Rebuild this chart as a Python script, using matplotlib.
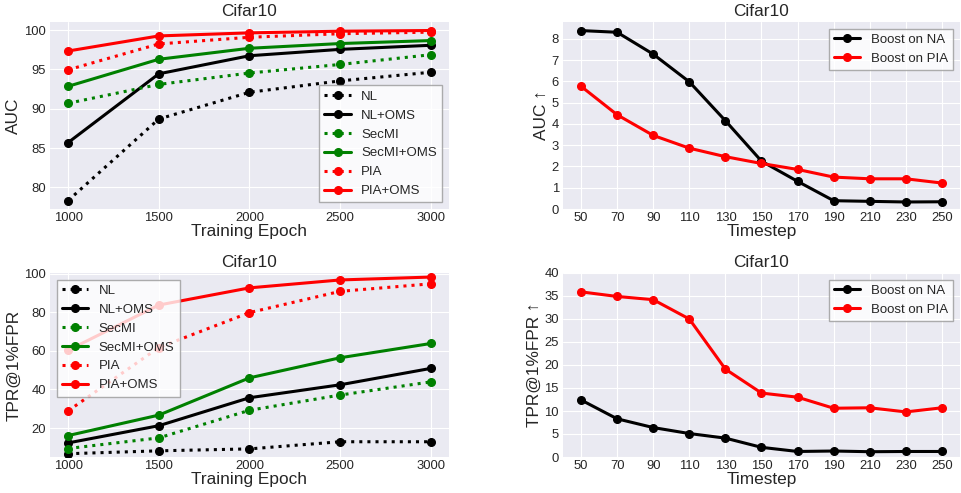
import matplotlib
matplotlib.use("Agg")
import matplotlib.pyplot as plt

plt.style.use("seaborn-v0_8-darkgrid")
plt.rcParams['font.family'] = ['Liberation Sans', 'DejaVu Sans']

# ---- data ----
epochs = [1000, 1500, 2000, 2500, 3000]
auc_nl = [78.33, 88.7, 92.1, 93.55, 94.65]
auc_nl_oms = [85.7, 94.45, 96.75, 97.56, 98.08]
auc_secmi = [90.7, 93.1, 94.55, 95.64, 96.88]
auc_secmi_oms = [92.86, 96.3, 97.7, 98.3, 98.68]
auc_pia = [94.96, 98.25, 99.1, 99.55, 99.75]
auc_pia_oms = [97.35, 99.27, 99.66, 99.87, 99.96]

tpr_nl = [6.7, 8.2, 9.2, 12.9, 12.9]
tpr_nl_oms = [12.3, 21.2, 35.7, 42.4, 50.9]
tpr_secmi = [9.4, 14.9, 29.2, 37.1, 43.9]
tpr_secmi_oms = [16.1, 26.7, 46.0, 56.4, 63.8]
tpr_pia = [28.9, 61.7, 79.8, 90.8, 94.7]
tpr_pia_oms = [60.3, 83.7, 92.6, 96.7, 98.2]

timesteps = [50, 70, 90, 110, 130, 150, 170, 190, 210, 230, 250]
auc_boost_na = [8.39, 8.31, 7.28, 5.98, 4.15, 2.25, 1.30, 0.39, 0.36, 0.33, 0.34]
auc_boost_pia = [5.77, 4.43, 3.46, 2.86, 2.46, 2.14, 1.86, 1.50, 1.42, 1.42, 1.22]
tpr_boost_na = [12.4, 8.3, 6.4, 5.1, 4.1, 2.1, 1.2, 1.3, 1.15, 1.2, 1.2]
tpr_boost_pia = [35.9, 34.9, 34.2, 30.0, 19.1, 13.9, 13.0, 10.6, 10.7, 9.8, 10.7]

series_names = ["NL", "NL+OMS", "SecMI", "SecMI+OMS", "PIA", "PIA+OMS"]
colors = ["black", "black", "green", "green", "red", "red"]
styles = [":", "-", ":", "-", ":", "-"]

W, H = 962, 493
fig = plt.figure(figsize=(W / 100, H / 100), dpi=100)

def box(l, t, r, b):
    return [l / W, 1 - b / H, (r - l) / W, (b - t) / H]

ax_tl = fig.add_axes(box(50, 22, 449, 209))
ax_tr = fig.add_axes(box(563, 22, 960, 209))
ax_bl = fig.add_axes(box(50, 273, 449, 457))
ax_br = fig.add_axes(box(563, 273, 960, 457))

LW = 2.2
MS = 5.5
TICK = 9.4
LAB = 12.4
LEG = 9.5

def style_axes(ax):
    ax.tick_params(labelsize=TICK, colors='0.15', length=0)
    ax.tick_params(axis='x', pad=2)
    ax.tick_params(axis='y', pad=3)

left_data = [
    (ax_tl, [auc_nl, auc_nl_oms, auc_secmi, auc_secmi_oms, auc_pia, auc_pia_oms], "AUC", "lower right"),
    (ax_bl, [tpr_nl, tpr_nl_oms, tpr_secmi, tpr_secmi_oms, tpr_pia, tpr_pia_oms], "TPR@1%FPR", "upper left"),
]
for ax, ys, ylabel, loc in left_data:
    for name, y, c, ls in zip(series_names, ys, colors, styles):
        ax.plot(epochs, y, linestyle=ls, color=c, marker='o', lw=LW, ms=MS, label=name)
    ax.set_xticks(epochs)
    ax.set_title("Cifar10", fontsize=LAB, pad=4)
    ax.set_xlabel("Training Epoch", fontsize=LAB, labelpad=0)
    ax.set_ylabel(ylabel, fontsize=LAB, labelpad=2)
    ax.legend(loc=loc, fontsize=LEG, frameon=True, facecolor='white',
              edgecolor='0.6', framealpha=0.8, fancybox=False)
    style_axes(ax)

ax_bl.set_ylim(5, 100.3)
ax_bl.set_yticks([20, 40, 60, 80, 100])

right_data = [
    (ax_tr, auc_boost_na, auc_boost_pia, "AUC ↑"),
    (ax_br, tpr_boost_na, tpr_boost_pia, "TPR@1%FPR ↑"),
]
for ax, na, pia, ylabel in right_data:
    ax.plot(timesteps, na, color='black', marker='o', lw=LW, ms=MS, label="Boost on NA")
    ax.plot(timesteps, pia, color='red', marker='o', lw=LW, ms=MS, label="Boost on PIA")
    ax.set_xticks(timesteps)
    ax.set_title("Cifar10", fontsize=LAB, pad=4)
    ax.set_xlabel("Timestep", fontsize=LAB, labelpad=0)
    ax.set_ylabel(ylabel, fontsize=LAB, labelpad=2)
    ax.legend(loc='upper right', fontsize=LEG, frameon=True, facecolor='white',
              edgecolor='0.6', framealpha=0.8, fancybox=False)
    style_axes(ax)

ax_tr.set_ylim(bottom=0)
ax_tr.set_yticks(range(0, 9))
ax_br.set_ylim(0, 40)
ax_br.set_yticks(range(0, 41, 5))

fig.savefig("out.png", dpi=100)
